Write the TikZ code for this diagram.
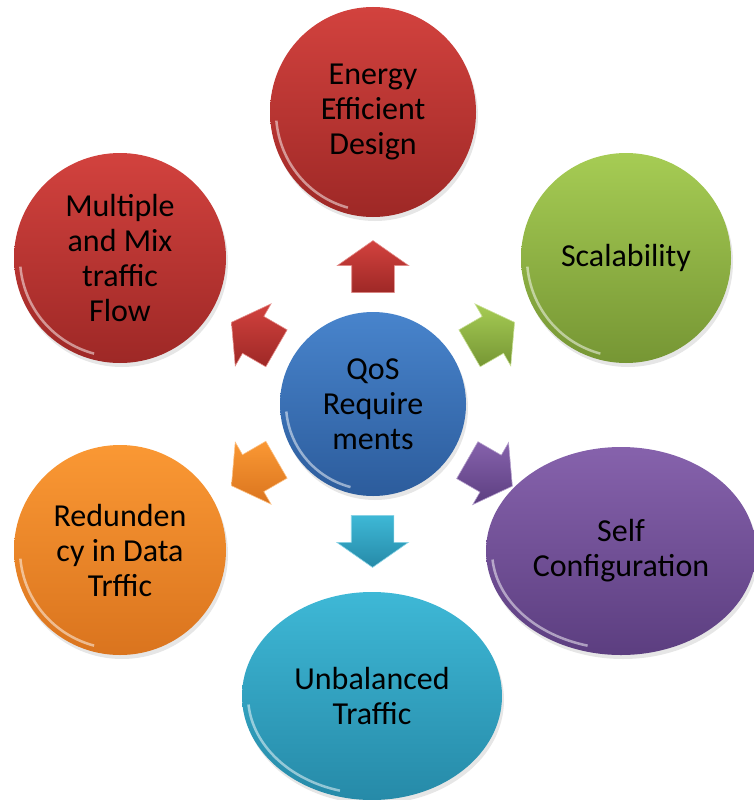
\documentclass[tikz,border=0pt]{standalone}
\usepackage{fontspec}
\setmainfont{Carlito}
\usetikzlibrary{shapes.geometric, shapes.arrows, calc, shadows}

\definecolor{redtop}{RGB}{210,66,62}
\definecolor{redbot}{RGB}{158,40,38}
\definecolor{greentop}{RGB}{166,204,84}
\definecolor{greenbot}{RGB}{118,150,52}
\definecolor{bluetop}{RGB}{72,132,204}
\definecolor{bluebot}{RGB}{44,92,156}
\definecolor{orangetop}{RGB}{250,152,52}
\definecolor{orangebot}{RGB}{218,116,30}
\definecolor{purpletop}{RGB}{134,98,172}
\definecolor{purplebot}{RGB}{92,62,128}
\definecolor{cyantop}{RGB}{62,184,214}
\definecolor{cyanbot}{RGB}{38,138,168}

\tikzset{
  ball/.style={ellipse, inner sep=0pt, align=center,
    font=\fontsize{32}{35}\selectfont,
    top color=#1top, bottom color=#1bot,
    drop shadow={opacity=0.2, shadow xshift=2pt, shadow yshift=-4pt},
    path picture={
      \draw[white, opacity=0.5, line width=2.5pt]
        let \p1=($(path picture bounding box.north east)-(path picture bounding box.center)$) in
        ($(path picture bounding box.center)+(185:{\x1-6pt} and {\y1-6pt})$)
        arc[start angle=185, end angle=255, x radius=\x1-6pt, y radius=\y1-6pt];
    }},
  pointer/.style={single arrow, inner xsep=0pt, inner ysep=21pt, minimum height=52pt,
    single arrow head extend=14.5pt, single arrow tip angle=110,
    top color=#1top, bottom color=#1bot, draw=#1top!60!white, line width=0.6pt}
}

\begin{document}
\begin{tikzpicture}[x=1pt, y=-1pt]
\useasboundingbox (0,0) rectangle (754,800);
% centre
\node[ball=blue, minimum width=186pt, minimum height=184pt] (qos) at (373,404) {QoS\\Require\\ments};
% outer balls
\node[ball=red, minimum width=206pt, minimum height=210pt] (energy) at (373,112) {Energy\\Efficient\\Design};
\node[ball=red, minimum width=212pt, minimum height=210pt] (flow) at (120,258) {Multiple\\and Mix\\traffic\\Flow};
\node[ball=green, minimum width=210pt, minimum height=210pt] (scal) at (626,258) {Scalability};
\node[ball=orange, minimum width=212pt, minimum height=210pt] (redun) at (120,550) {Redunden\\cy in Data\\Trffic};
\node[ball=purple, minimum width=270pt, minimum height=208pt] (self) at (621,551) {Self\\Configuration};
\node[ball=cyan, minimum width=260pt, minimum height=208pt] (unbal) at (372,696) {Unbalanced\\Traffic};
% arrows
\foreach \n/\a/\c in {energy/90/red, flow/150/red, scal/30/green, redun/210/orange, self/330/purple, unbal/270/cyan}
  \node[pointer=\c, rotate=\a] (arr-\n) at ($(qos)!0.445!(\n)$) {};
\end{tikzpicture}
\end{document}
